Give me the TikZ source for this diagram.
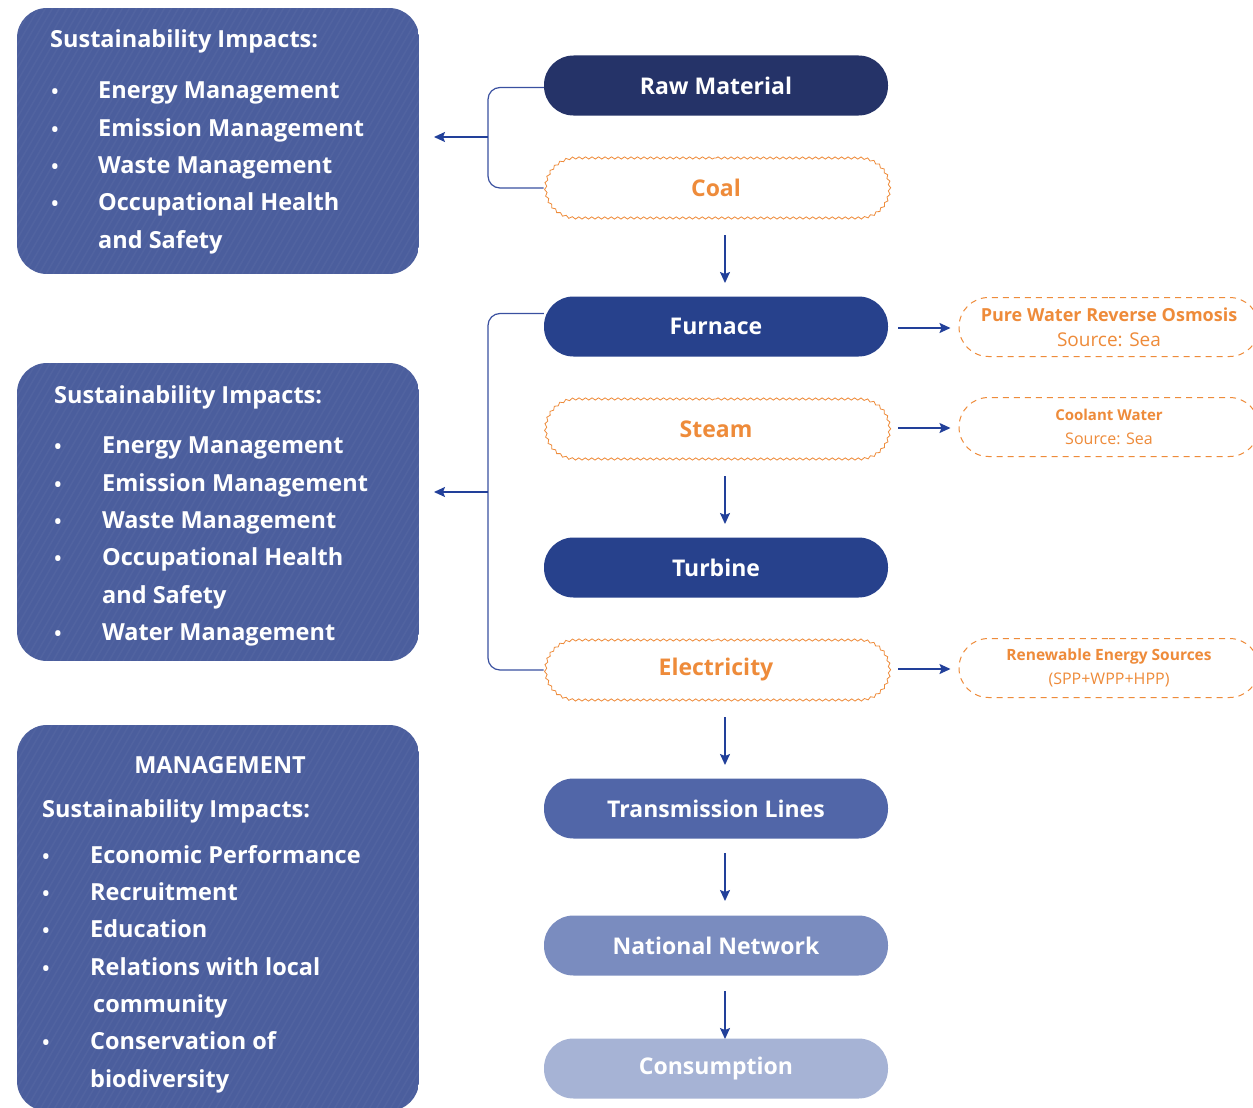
\documentclass[tikz,border=0pt]{standalone}
\usepackage{fontspec}
\setmainfont{Open Sans}
\usetikzlibrary{arrows.meta,decorations.pathmorphing,shapes.misc}
\definecolor{navy}{HTML}{253368}
\definecolor{royal}{HTML}{27418C}
\definecolor{midblue}{HTML}{5166A8}
\definecolor{softblue}{HTML}{7A8CBF}
\definecolor{paleblue}{HTML}{A6B3D5}
\definecolor{panel}{HTML}{4B5E9D}
\definecolor{orng}{HTML}{EE8B3A}
\definecolor{arrowblue}{HTML}{22409A}
\definecolor{linkblue}{HTML}{3A50A0}
\tikzset{
  pilltext/.style={minimum width=344pt, minimum height=60pt, inner sep=0pt,
     font=\fontsize{23}{26}\selectfont\bfseries},
  pill/.style={pilltext, rounded corners=29.5pt, text=white},
  wavy/.style={pilltext, rounded rectangle, draw=orng, line width=0.8pt, text=orng, decorate,
     decoration={snake, amplitude=1.1pt, segment length=6.5pt}},
  sidebox/.style={rounded rectangle, minimum width=300pt, minimum height=59pt, inner sep=0pt,
     draw=orng, line width=1pt, dash pattern=on 6pt off 5pt, text=orng, align=center},
  ptxt/.style={anchor=base west, text=white, font=\fontsize{23.5}{26}\selectfont\bfseries, inner sep=0pt},
  bul/.style={anchor=base, text=white, font=\fontsize{19}{20}\selectfont\bfseries, inner sep=0pt},
  flow/.style={draw=arrowblue, line width=1.6pt, -{Stealth[length=11pt,width=10pt,inset=2pt]}},
  link/.style={draw=linkblue, line width=1.2pt, rounded corners=12pt},
  stripes/.style={draw=white, opacity=0.035, line width=1.5pt}
}
\begin{document}
\begin{tikzpicture}[x=1pt,y=-1pt]
\useasboundingbox (0,0) rectangle (1253,1108);
\fill[white] (0,0) rectangle (1253,1108);

% ---- left panels (with faint diagonal texture)
\foreach \ya/\yb in {8/274,363/661,725/1111}{
  \begin{scope}
    \path[rounded corners=30pt, clip] (17,\ya) rectangle (419,\yb);
    \fill[panel] (17,\ya) rectangle (419,\yb);
    \foreach \k in {-300,-293,...,420}{
      \draw[stripes] (17+\k,\yb) -- ++(260,-450);
    }
  \end{scope}
}
\node[ptxt] (p1t) at (50,48) {Sustainability Impacts:};
\foreach \y/\t [count=\i] in {99/Energy Management,136/Emission Management,173/Waste Management,210/Occupational Health}{
  \node[bul] (p1b\i) at (55,\y) {•};
  \node[ptxt] (p1i\i) at (98,\y) {\t};
}
\node[ptxt] (p1i5) at (98,248) {and Safety};

\node[ptxt] (p2t) at (54,403) {Sustainability Impacts:};
\foreach \y/\t [count=\i] in {453/Energy Management,491/Emission Management,528/Waste Management,565/Occupational Health}{
  \node[bul] (p2b\i) at (58,\y) {•};
  \node[ptxt] (p2i\i) at (102,\y) {\t};
}
\node[ptxt] (p2i5) at (102,603) {and Safety};
\node[bul] (p2b6) at (58,640) {•};
\node[ptxt] (p2i6) at (102,640) {Water Management};

\node[anchor=base, text=white, font=\fontsize{23.5}{26}\selectfont\bfseries, inner sep=0pt] (p3h) at (220,773) {MANAGEMENT};
\node[ptxt] (p3t) at (42,817) {Sustainability Impacts:};
\foreach \y/\t [count=\i] in {863/Economic Performance,900/Recruitment,937/Education,975/Relations with local}{
  \node[bul] (p3b\i) at (46,\y) {•};
  \node[ptxt] (p3i\i) at (90,\y) {\t};
}
\node[ptxt] (p3i5) at (93,1012) {community};
\node[bul] (p3b6) at (46,1049) {•};
\node[ptxt] (p3i6) at (90,1049) {Conservation of};
\node[ptxt] (p3i7) at (90,1087) {biodiversity};

% ---- central flow
\node[pill, fill=navy] (raw) at (716,85.5) {Raw Material};
\node[wavy] (coal) at (716,188) {Coal};
\node[pill, fill=royal] (furnace) at (716,326.5) {Furnace};
\node[wavy] (steam) at (716,429) {Steam};
\node[pill, fill=royal] (turbine) at (716,567.5) {Turbine};
\node[wavy] (elec) at (716,670) {Electricity};
\node[pill, fill=midblue] (trans) at (716,808.5) {Transmission Lines};
\node[pill, fill=softblue] (natnet) at (716,945.5) {National Network};
\node[pill, fill=paleblue] (cons) at (716,1068.5) {Consumption};

\draw[flow] (725,235) -- (725,283);
\draw[flow] (725,476) -- (725,524);
\draw[flow] (725,717) -- (725,765);
\draw[flow] (725,853) -- (725,901);
\draw[flow] (725,991) -- (725,1039);

% ---- brackets
\coordinate (b1) at (488,137);
\coordinate (a1) at (434,137);
\draw[link] ([yshift=-2pt]raw.west) -| (b1) |- (coal.west);
\draw[flow, line width=1.4pt] (b1) -- (a1);
\coordinate (b2) at (488,492);
\coordinate (a2) at (434,492);
\draw[link] ([yshift=13pt]furnace.west) -| (b2) |- (elec.west);
\draw[flow, line width=1.4pt] (b2) -- (a2);

% ---- side boxes
\node[sidebox, font=\fontsize{18}{25}\selectfont] (pure) at (1109,327) {{\bfseries Pure Water Reverse Osmosis}\\{\fontsize{19}{25}\selectfont Source: Sea}};
\node[sidebox, font=\fontsize{15}{24}\selectfont] (cool) at (1109,427) {{\bfseries Coolant Water}\\{\fontsize{16}{24}\selectfont Source: Sea}};
\node[sidebox, font=\fontsize{15.5}{24}\selectfont] (renew) at (1109,668) {{\bfseries Renewable Energy Sources}\\{\fontsize{16}{24}\selectfont (SPP+WPP+HPP)}};

\draw[flow, shorten >=8pt] (898,328) -- (pure.west |- 0,328);
\draw[flow, shorten >=8pt] (898,428) -- (cool.west |- 0,428);
\draw[flow, shorten >=8pt] (898,669) -- (renew.west |- 0,669);
\end{tikzpicture}
\end{document}
